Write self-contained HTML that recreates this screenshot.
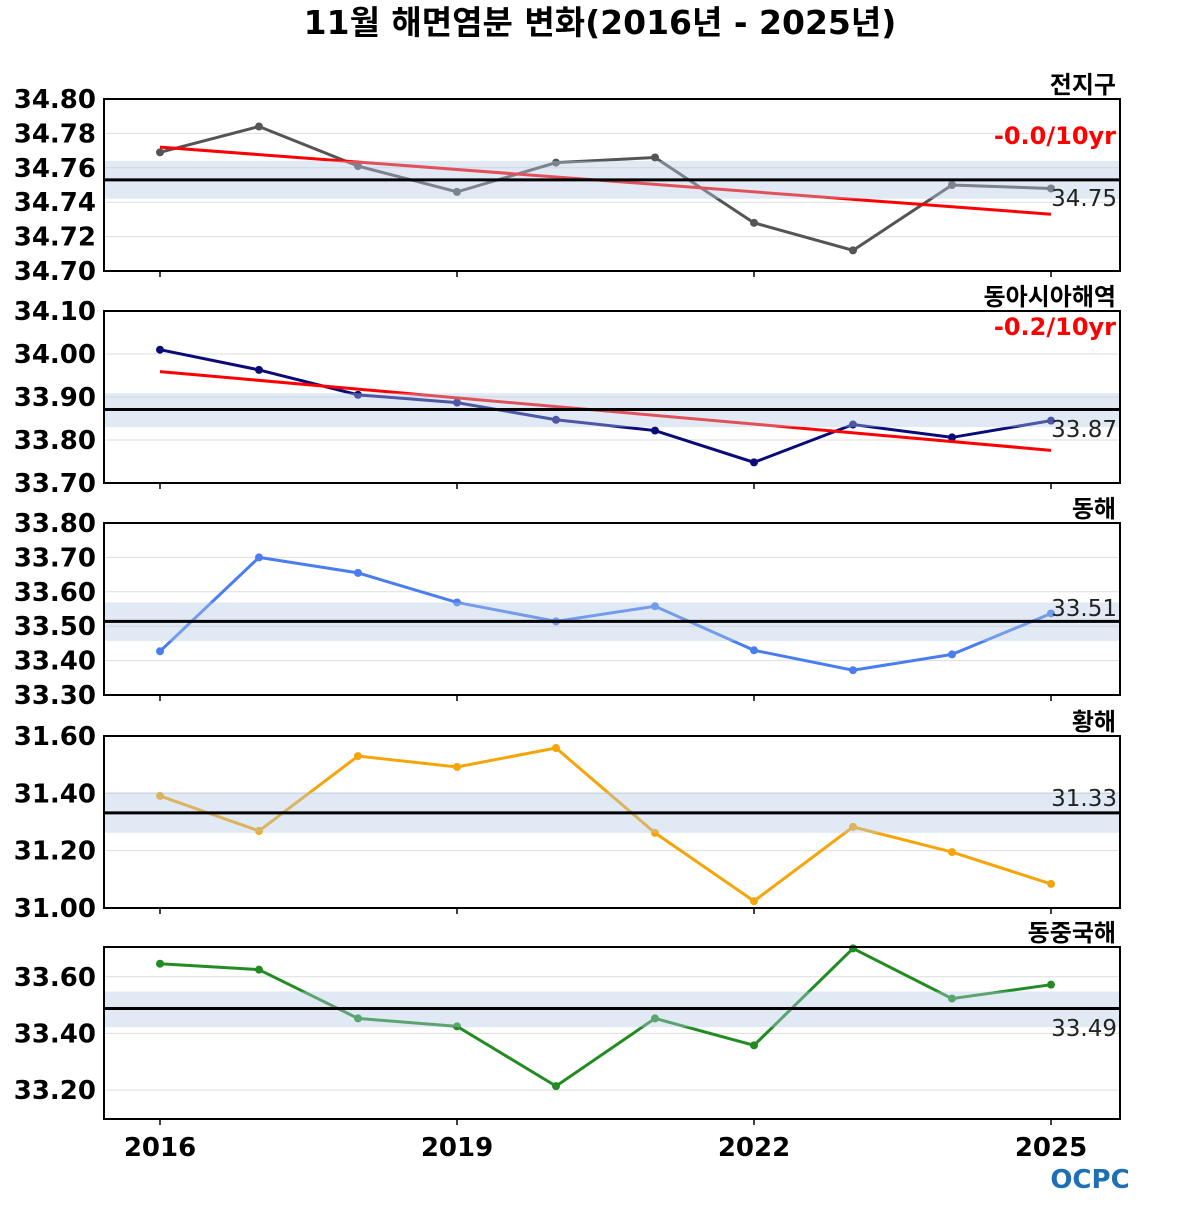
<!DOCTYPE html>
<html><head><meta charset="utf-8"><style>
body{margin:0;background:#fff;}
svg text{font-family:"DejaVu Sans","Noto Sans CJK KR",sans-serif;}
</style></head><body>
<svg id="chart" width="1200" height="1200" xmlns="http://www.w3.org/2000/svg">
<text x="600" y="34" text-anchor="middle" font-size="33" font-weight="bold">11월 해면염분 변화(2016년 - 2025년)</text>
<g id="panels"></g>
<text x="1090" y="1188" text-anchor="middle" font-size="26" font-weight="bold" fill="#1f6fb5">OCPC</text>
</svg>
<script>
const years=[2016,2017,2018,2019,2020,2021,2022,2023,2024,2025];
const xTickYears=[2016,2019,2022,2025];
const regionNames=["전지구","동아시아해역","동해","황해","동중국해"];
const globalVals=[34.769,34.784,34.761,34.746,34.763,34.766,34.728,34.712,34.750,34.748];
const eastAsiaVals=[34.010,33.963,33.905,33.887,33.847,33.822,33.748,33.836,33.806,33.845];
const eastSeaVals=[33.427,33.700,33.655,33.569,33.514,33.558,33.430,33.372,33.418,33.537];
const yellowSeaVals=[31.391,31.269,31.530,31.492,31.558,31.262,31.024,31.283,31.195,31.084];
const ecsVals=[33.646,33.625,33.453,33.425,33.214,33.453,33.358,33.700,33.523,33.572];
const means=[34.753,33.871,33.514,31.332,33.488];
const bandLow=[34.742,33.830,33.457,31.262,33.422];
const bandHigh=[34.764,33.909,33.569,31.404,33.548];
const trendStart=[34.772,33.959,null,null,null];
const trendEnd=[34.733,33.776,null,null,null];
const trendLabels=["-0.0/10yr","-0.2/10yr",null,null,null];
const yMins=[34.70,33.70,33.30,31.00,33.098];
const yMaxs=[34.80,34.10,33.80,31.60,33.705];
const yTicks=[[34.70,34.72,34.74,34.76,34.78,34.80],[33.70,33.80,33.90,34.00,34.10],[33.30,33.40,33.50,33.60,33.70,33.80],[31.00,31.20,31.40,31.60],[33.20,33.40,33.60]];
const meanLabelY=[206,437,616,806,1036];
const series=[globalVals,eastAsiaVals,eastSeaVals,yellowSeaVals,ecsVals];
const colors=["#555555","#0a0a78","#4a7ef0","#f5a50a","#228b22"];
const tops=[99,311,523,736,947];
const H=172,L=104,R=1120;
const NS="http://www.w3.org/2000/svg";
const root=document.getElementById('panels');
function mk(t,a,p){const e=document.createElementNS(NS,t);for(const k in a)e.setAttribute(k,a[k]);(p||root).appendChild(e);return e;}
function xs(yr){return 160+(yr-2016)*99;}
for(let i=0;i<5;i++){
  const top=tops[i];
  const ys=v=>top+H-(v-yMins[i])/(yMaxs[i]-yMins[i])*H;
  const g=mk('g',{});
  
  
  yTicks[i].forEach(t=>{
    const y=ys(t);
    const gl=mk('line',{x1:L,x2:R,y1:y,y2:y,stroke:'#ddd','stroke-width':1},g);
    
    
    const tl=mk('text',{x:96,y:y+9,'text-anchor':'end','font-size':26,'font-weight':'bold'},g);
    tl.textContent=t.toFixed(2);
    
    
  });
  const pts=series[i].map((v,j)=>xs(years[j])+','+ys(v)).join(' ');
  const pl=mk('polyline',{points:pts,fill:'none',stroke:colors[i],'stroke-width':3},g);
  
  
  series[i].forEach((v,j)=>{
    const c=mk('circle',{cx:xs(years[j]),cy:ys(v),r:4,fill:colors[i]},g);
    
    
  });
  if(trendStart[i]!==null){
    const tr=mk('line',{x1:160,x2:1051,y1:ys(trendStart[i]),y2:ys(trendEnd[i]),stroke:'#ff0000','stroke-width':3},g);
    
    
    const tt=mk('text',{x:1116,y:i==0?144:335,'text-anchor':'end','font-size':24,'font-weight':'bold',fill:'#ff0000'},g);
    tt.textContent=trendLabels[i];
    
    
  }
  const b=mk('rect',{x:L,width:R-L,y:ys(bandHigh[i]),height:ys(bandLow[i])-ys(bandHigh[i]),fill:'#b4cbe3','fill-opacity':0.4},g);
  
  
  const m=mk('line',{x1:L,x2:R,y1:ys(means[i]),y2:ys(means[i]),stroke:'#000','stroke-width':3},g);
  
  
  const ml=mk('text',{x:1117,y:meanLabelY[i],'text-anchor':'end','font-size':23,fill:'#222'},g);
  ml.textContent=means[i].toFixed(2);
  
  
  const fr=mk('rect',{x:L,y:top,width:R-L,height:H,fill:'none',stroke:'#000','stroke-width':2},g);
  
  
  xTickYears.forEach(yr=>{
    const tk=mk('line',{x1:xs(yr),x2:xs(yr),y1:top+H,y2:top+H+6,stroke:'#000','stroke-width':1.5},g);
    
    
  });
  const rn=mk('text',{x:1116,y:top-6,'text-anchor':'end','font-size':24,'font-weight':'bold'},g);
  rn.textContent=regionNames[i];
  
  
}
xTickYears.forEach(yr=>{
  const t=mk('text',{x:xs(yr),y:1156,'text-anchor':'middle','font-size':26,'font-weight':'bold'});
  t.textContent=yr;
  
  
});
</script>
</body></html>
